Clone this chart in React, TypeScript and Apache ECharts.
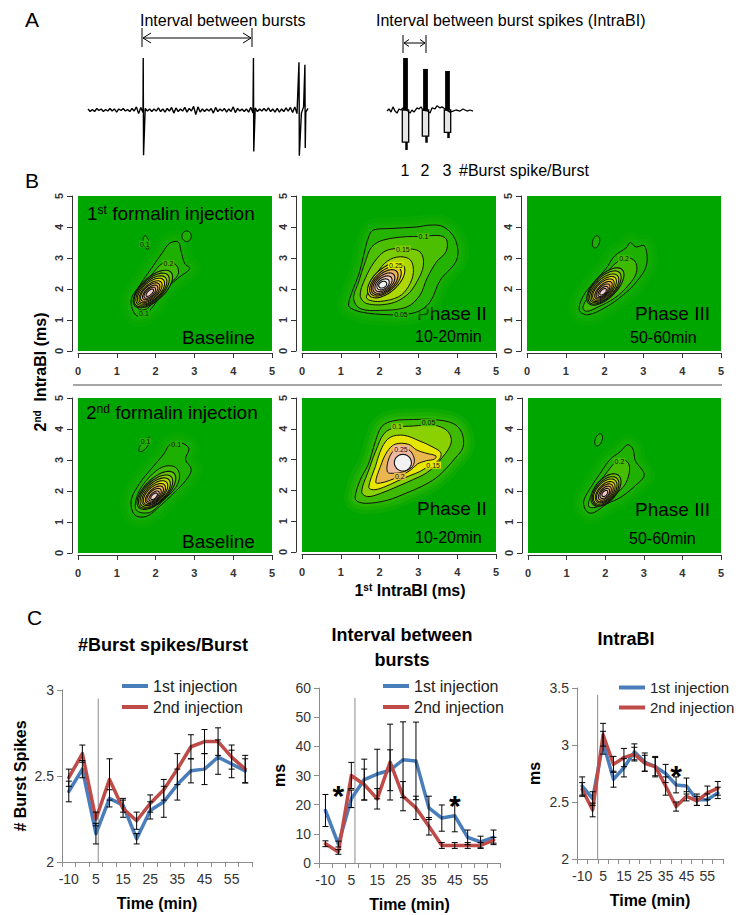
import React, { useEffect, useRef } from "react";
import * as echarts from "echarts";

const FONT = "'Liberation Sans', Arial, Helvetica, sans-serif";

// ---------------- Panel A: example traces ----------------
const trace1Noise = [
  0.02, -0.03, 0.01, -0.03, 0.03, -0.01, 0.02, -0.03, 0.01, -0.02,
  0.03, -0.02, 0.02, -0.04, 0.02, -0.01, 0.03, -0.02, 0.01, -0.03,
  0.03, -0.02, 0.06, -0.07, 0.05, -0.05, 0.03, -0.02, 0.02, -0.03,
  0.02, -0.02, 0.04, -0.03, 0.02, -0.04, 0.03, -0.02, 0.05, -0.06,
  0.04, -0.03, 0.02, -0.02, 0.05, -0.04, 0.03, -0.02, 0.07, -0.09,
  0.06, -0.04, 0.02, -0.03, 0.02, -0.02, 0.03, -0.06, 0.05, -0.03,
  0.02, -0.02, 0.03, -0.04, 0.02, -0.03, 0.06, -0.05, 0.03, -0.02,
  0.02, -0.03, 0.02, -0.04, 0.05, -0.06, 0.04, -0.03, 0.02, -0.02,
  0.03, -0.02, 0.04, -0.03, 0.02, -0.04, 0.03, -0.04, 0.02, -0.03,
  0.04, -0.02, 0.05, -0.05, 0.06, -0.07, 0.05, -0.06, 0.06, -0.04,
  0.03,
];
// [time, peak, trough]
const trace1Spikes = [
  [251, 1.0, -0.87],
  [752, 1.0, -0.8],
  [959, 0.92, -0.88],
  [986, 0.87, -0.73],
];
const burstTrace = [
  [0, -0.02], [0.2, 0.02], [0.4, -0.04], [0.6, 0.06], [0.8, -0.02], [1.0, -0.06],
  [1.2, 0.02], [1.4, 0], [1.6, 0.04], [2.1, -0.02], [2.3, -0.06], [2.5, 0],
  [2.7, -0.04], [3.0, 0.04], [3.2, 0.02], [3.4, 0.06], [3.6, 0], [4.1, -0.02],
  [4.3, -0.06], [4.5, 0.04], [4.8, 0.02], [5.0, 0.08], [5.3, 0.04], [5.5, 0.06],
  [5.8, 0.02], [6.3, -0.04], [6.6, -0.02], [6.9, 0], [7.3, -0.02], [7.6, 0.02],
  [8.0, -0.02], [8.3, 0], [8.6, -0.02],
];
const burstSpikes = [
  [1.85, 1.0, -0.77],
  [3.85, 0.79, -0.63],
  [6.05, 0.75, -0.54],
];

// ---------------- Panel B: density contours (1st IntraBI, 2nd IntraBI in ms) ----------------
// Row 1 Baseline
const base1Rings = [
  [[1.5, 1.15], [1.37, 1.64], [1.59, 2.12], [1.89, 2.66], [2.19, 3.2], [2.36, 3.47], [2.58, 3.52], [2.66, 3.2], [2.75, 2.82], [2.88, 2.66], [2.62, 2.39], [2.28, 2.02], [2.02, 1.58], [1.76, 1.21]],
  [[1.55, 1.37], [1.59, 1.91], [1.89, 2.45], [2.23, 2.86], [2.53, 2.77], [2.58, 2.47], [2.32, 2.12], [2.02, 1.69], [1.76, 1.35]],
];
const base1RingLevels = [0.1, 0.2];
const base1Cores = [
  [1.93, 2.0, 0.72, 0.33, 53], [1.9, 1.97, 0.64, 0.3, 53], [1.89, 1.95, 0.56, 0.27, 53],
  [1.88, 1.93, 0.49, 0.24, 53], [1.87, 1.91, 0.42, 0.2, 53], [1.86, 1.9, 0.35, 0.17, 53],
  [1.86, 1.89, 0.28, 0.13, 53], [1.85, 1.88, 0.21, 0.1, 53], [1.85, 1.88, 0.14, 0.06, 53],
];
const base1CoreLevels = [0.3, 0.4, 0.5, 0.6, 0.7, 0.8, 0.9, 1.0, 1.1];
const base1Islands = [[2.8, 3.7, 0.17, 0.12, 90, 0.1], [1.76, 3.5, 0.22, 0.07, 100, 0.1]];
const base1Labels = [[1.72, 3.45, "0.1", 0.1], [2.33, 2.82, "0.2", 0.2], [1.7, 1.2, "0.1", 0.1]];

// Row 1 Phase II
const phase2aRings = [
  [[1.2, 1.48], [1.29, 1.91], [1.46, 2.45], [1.59, 3.09], [1.72, 3.69], [1.84, 3.9], [2.27, 3.95], [2.96, 4.0], [3.3, 4.06], [3.64, 4.01], [3.95, 3.6], [3.99, 2.95], [3.56, 2.28], [3.3, 1.58], [3.0, 1.28], [2.6, 1.18], [2.19, 1.17], [1.59, 1.24], [1.29, 1.36]],
  [[1.33, 1.69], [1.46, 2.23], [1.63, 2.88], [1.8, 3.36], [2.1, 3.58], [2.7, 3.69], [3.04, 3.69], [3.56, 3.72], [3.73, 3.58], [3.71, 3.2], [3.47, 2.88], [3.22, 2.34], [3.04, 1.8], [2.7, 1.42], [2.02, 1.31], [1.5, 1.37]],
  [[1.5, 1.8], [1.67, 2.45], [1.93, 2.98], [2.19, 3.25], [2.62, 3.3], [3.04, 3.2], [3.13, 2.77], [2.96, 2.23], [2.7, 1.8], [2.27, 1.53], [1.67, 1.53]],
  [[1.66, 1.75], [1.93, 2.5], [2.2, 2.9], [2.53, 3.04], [2.8, 2.93], [2.87, 2.53], [2.74, 2.07], [2.49, 1.75], [2.02, 1.6], [1.74, 1.64]],
];
const phase2aRingLevels = [0.05, 0.1, 0.15, 0.2];
const phase2aCores = [
  [2.17, 2.28, 0.66, 0.34, 53], [2.15, 2.25, 0.56, 0.29, 53], [2.13, 2.22, 0.47, 0.25, 53],
  [2.11, 2.19, 0.38, 0.21, 53], [2.1, 2.17, 0.29, 0.17, 53], [2.09, 2.15, 0.2, 0.13, 53],
  [2.08, 2.14, 0.12, 0.09, 50],
];
const phase2aCoreLevels = [0.25, 0.3, 0.35, 0.4, 0.45, 0.5, 0.55];
const phase2aLabels = [[3.13, 3.69, "0.1", 0.1], [2.6, 3.29, "0.15", 0.15], [2.42, 2.76, "0.25", 0.25], [2.55, 1.19, "0.05", 0.05]];

// Row 1 Phase III
const phase3aRings = [
  [[1.35, 1.31], [1.44, 1.75], [1.7, 2.18], [2.04, 2.66], [2.26, 3.07], [2.56, 3.33], [2.66, 3.5], [2.8, 3.36], [3.03, 3.39], [3.08, 2.77], [2.82, 2.23], [2.47, 1.8], [2.04, 1.42], [1.57, 1.17]],
  [[1.44, 1.42], [1.66, 1.89], [1.96, 2.39], [2.26, 2.8], [2.52, 3.01], [2.78, 2.9], [2.82, 2.53], [2.6, 2.1], [2.26, 1.71], [1.83, 1.42], [1.53, 1.28]],
];
const phase3aRingLevels = [0.1, 0.2];
const phase3aCores = [
  [2.02, 2.08, 0.7, 0.32, 55], [2.0, 2.05, 0.62, 0.29, 55], [1.99, 2.02, 0.54, 0.26, 55],
  [1.98, 2.0, 0.47, 0.22, 55], [1.97, 1.98, 0.4, 0.19, 55], [1.97, 1.96, 0.33, 0.15, 55],
  [1.96, 1.94, 0.26, 0.12, 55], [1.96, 1.92, 0.19, 0.09, 55], [1.96, 1.91, 0.12, 0.06, 55],
];
const phase3aCoreLevels = [0.3, 0.4, 0.5, 0.6, 0.7, 0.8, 0.9, 1.0, 1.1];
const phase3aIslands = [[1.78, 3.52, 0.2, 0.09, 80, 0.1]];
const phase3aLabels = [[2.5, 2.98, "0.2", 0.2]];

// Row 2 Baseline
const base2Rings = [
  [[1.46, 1.23], [1.37, 1.69], [1.59, 2.25], [1.92, 2.76], [2.21, 3.19], [2.38, 3.51], [2.66, 3.55], [2.86, 3.37], [2.77, 3.02], [2.92, 2.7], [2.79, 2.36], [2.45, 1.91], [2.1, 1.5], [1.76, 1.18]],
  [[1.5, 1.39], [1.55, 1.93], [1.85, 2.46], [2.19, 2.78], [2.49, 2.78], [2.62, 2.52], [2.52, 2.12], [2.19, 1.69], [1.85, 1.31]],
];
const base2RingLevels = [0.1, 0.2];
const base2Cores = [
  [2.02, 2.02, 0.72, 0.33, 54], [2.0, 1.98, 0.63, 0.3, 54], [1.99, 1.95, 0.55, 0.27, 54],
  [1.98, 1.93, 0.47, 0.23, 54], [1.97, 1.9, 0.4, 0.2, 54], [1.97, 1.88, 0.33, 0.16, 54],
  [1.96, 1.86, 0.26, 0.13, 54], [1.96, 1.84, 0.19, 0.09, 54], [1.96, 1.83, 0.12, 0.06, 54],
];
const base2CoreLevels = [0.3, 0.4, 0.5, 0.6, 0.7, 0.8, 0.9, 1.0, 1.1];
const base2Islands = [[1.72, 3.5, 0.26, 0.09, 60, 0.1]];
const base2Labels = [[2.53, 3.5, "0.1", 0.1], [1.74, 3.6, "0.1", 0.1]];

// Row 2 Phase II
const phase2bRings = [
  [[1.37, 1.8], [1.5, 2.34], [1.72, 2.88], [1.89, 3.58], [2.06, 4.08], [2.36, 4.26], [2.87, 4.3], [3.39, 4.3], [3.9, 4.17], [4.12, 3.87], [4.15, 3.4], [3.95, 3.05], [3.72, 2.72], [3.45, 2.4], [3.1, 2.14], [2.7, 1.92], [2.2, 1.68], [1.67, 1.58], [1.42, 1.65]],
  [[1.54, 1.95], [1.72, 2.66], [1.91, 3.31], [2.12, 3.85], [2.4, 4.04], [2.87, 4.09], [3.39, 4.12], [3.73, 3.95], [3.85, 3.65], [3.78, 3.35], [3.62, 3.08], [3.45, 2.82], [3.2, 2.56], [2.88, 2.36], [2.5, 2.15], [2.02, 1.9], [1.69, 1.8]],
  [[1.72, 2.1], [1.89, 2.77], [2.06, 3.39], [2.27, 3.72], [2.62, 3.79], [3.04, 3.6], [3.35, 3.42], [3.58, 3.22], [3.52, 2.98], [3.3, 2.82], [3.05, 2.62], [2.78, 2.48], [2.45, 2.3], [2.1, 2.1], [1.84, 2.02]],
  [[1.9, 2.26], [2.02, 2.77], [2.19, 3.25], [2.4, 3.5], [2.74, 3.5], [2.96, 3.31], [3.22, 3.2], [3.45, 3.12], [3.42, 3.02], [3.2, 2.96], [2.98, 2.86], [2.8, 2.66], [2.55, 2.48], [2.25, 2.32], [2.02, 2.24]],
  [[2.2, 2.6], [2.25, 3.07], [2.43, 3.34], [2.74, 3.33], [2.89, 3.05], [2.85, 2.78], [2.65, 2.62], [2.4, 2.56]],
];
const phase2bRingLevels = [0.05, 0.1, 0.15, 0.2, 0.25];
const phase2bCores = [[2.6, 2.9, 0.27, 0.22, 90]];
const phase2bCoreLevels = [0.3];
const phase2bLabels = [[3.26, 4.2, "0.05", 0.05], [2.45, 4.06, "0.1", 0.1], [2.55, 3.34, "0.25", 0.25], [3.38, 2.82, "0.15", 0.15], [2.52, 2.46, "0.2", 0.2]];

// Row 2 Phase III
const phase3bRings = [
  [[1.53, 1.33], [1.44, 1.65], [1.61, 2.08], [1.87, 2.57], [2.13, 3.02], [2.39, 3.27], [2.58, 3.49], [2.72, 3.35], [2.78, 2.98], [3.01, 2.52], [2.75, 2.14], [2.39, 1.79], [2.04, 1.58], [1.7, 1.3]],
  [[1.57, 1.51], [1.7, 2.03], [1.96, 2.46], [2.26, 2.92], [2.47, 3.02], [2.62, 2.84], [2.6, 2.46], [2.46, 2.12], [2.13, 1.79], [1.8, 1.49]],
];
const phase3bRingLevels = [0.1, 0.2];
const phase3bCores = [
  [2.02, 2.03, 0.58, 0.3, 60], [2.01, 2.0, 0.51, 0.27, 60], [2.0, 1.98, 0.45, 0.24, 60],
  [2.0, 1.96, 0.38, 0.2, 60], [1.99, 1.94, 0.32, 0.17, 60], [1.99, 1.93, 0.25, 0.13, 60],
  [1.99, 1.92, 0.18, 0.1, 60], [1.99, 1.92, 0.11, 0.06, 60],
];
const phase3bCoreLevels = [0.3, 0.4, 0.5, 0.6, 0.7, 0.8, 0.9, 1.0];
const phase3bIslands = [[1.83, 3.65, 0.2, 0.09, 75, 0.1]];
const phase3bLabels = [[2.37, 2.95, "0.2", 0.2]];

// ---------------- Panel C: time courses ----------------
const timeCats = ["-10", "-5", "5", "10", "15", "20", "25", "30", "35", "40", "45", "50", "55", "60"];

const spikes1st = [2.41, 2.54, 2.165, 2.37, 2.33, 2.135, 2.3, 2.35, 2.45, 2.53, 2.54, 2.61, 2.57, 2.53];
const spikes1stErr = [0.06, 0.05, 0.06, 0.05, 0.04, 0.03, 0.05, 0.09, 0.09, 0.07, 0.09, 0.1, 0.08, 0.07];
const spikes2nd = [2.49, 2.63, 2.25, 2.48, 2.31, 2.24, 2.34, 2.42, 2.54, 2.67, 2.7, 2.7, 2.61, 2.54];
const spikes2ndErr = [0.05, 0.05, 0.04, 0.12, 0.05, 0.05, 0.05, 0.06, 0.09, 0.07, 0.07, 0.08, 0.07, 0.08];

const interval1st = [18, 6.5, 22, 28.6, 30.5, 31.8, 35.4, 35, 18.9, 15.4, 16.2, 8.8, 7.2, 8.8];
const interval1stErr = [5.5, 1, 3, 7, 8.5, 7, 13, 13.3, 4, 4.5, 5.5, 2.5, 2, 2.5];
const interval2nd = [6.6, 3.8, 30, 26.9, 22, 34.6, 22.9, 18.9, 12.6, 6, 6, 6, 6, 7.8];
const interval2ndErr = [1, 0.8, 4.5, 5.3, 3.5, 13, 5, 4, 3, 1, 1, 1, 1, 1];

const intra1st = [2.64, 2.53, 3.02, 2.7, 2.8, 2.94, 2.85, 2.81, 2.75, 2.65, 2.64, 2.52, 2.52, 2.58];
const intra1stErr = [0.08, 0.06, 0.1, 0.07, 0.08, 0.07, 0.08, 0.08, 0.08, 0.07, 0.07, 0.05, 0.05, 0.05];
const intra2nd = [2.61, 2.43, 3.09, 2.83, 2.89, 2.92, 2.84, 2.81, 2.64, 2.46, 2.55, 2.51, 2.58, 2.62];
const intra2ndErr = [0.06, 0.06, 0.1, 0.07, 0.08, 0.06, 0.07, 0.09, 0.08, 0.04, 0.04, 0.04, 0.06, 0.06];

// significance stars: [category, value]
const intervalStars = [["-5", 26], ["45", 22.6]];
const intraStars = [["40", 2.8]];

const BLUE = "#4A7EBB";
const RED = "#BE4B48";

// ---------------- helpers ----------------
function hsv(h: number, s: number, v: number) {
  const c = v * s;
  const hp = h / 60;
  const x = c * (1 - Math.abs((hp % 2) - 1));
  let r = 0, g = 0, b = 0;
  if (hp < 1) { r = c; g = x; }
  else if (hp < 2) { r = x; g = c; }
  else if (hp < 3) { g = c; b = x; }
  else if (hp < 4) { g = x; b = c; }
  else if (hp < 5) { r = x; b = c; }
  else { r = c; b = x; }
  const m = v - c;
  const to = (q: number) => Math.round((q + m) * 255);
  return `rgb(${to(r)},${to(g)},${to(b)})`;
}
// R terrain.colors as a continuous ramp
function terrain(f: number) {
  const q = Math.max(0, Math.min(1, f));
  if (q <= 0.5) {
    const t = q / 0.5;
    return hsv(120 - 60 * t, 1, 0.65 + 0.25 * t);
  }
  const t = (q - 0.5) / 0.5;
  return hsv(Math.max(0, 60 - 60 * t), 1 - t, 0.9 + 0.05 * t);
}
function ellipsePts(cx: number, cy: number, a: number, b: number, deg: number) {
  const th = (deg * Math.PI) / 180;
  const out: number[][] = [];
  for (let k = 0; k < 48; k++) {
    const t = (2 * Math.PI * k) / 48;
    out.push([
      cx + a * Math.cos(th) * Math.cos(t) - b * Math.sin(th) * Math.sin(t),
      cy + a * Math.sin(th) * Math.cos(t) + b * Math.cos(th) * Math.sin(t),
    ]);
  }
  return out;
}

function makePanelRenderer(rings: any[], ringLevels: number[], cores: any[], coreLevels: number[], islands: any[], labels: any[], zmax: number) {
  return (params: any, api: any) => {
    const pts = (arr: number[][]) => arr.map((p) => api.coord(p));
    const children: any[] = [];
    const outer = pts(rings[0]);
    const haloColor = terrain((ringLevels[0] / zmax) * 0.9);
    [22, 14, 7].forEach((w, j) => {
      children.push({
        type: "polygon",
        shape: { points: outer, smooth: 0.35 },
        style: { fill: haloColor, stroke: haloColor, lineWidth: w, opacity: 0.22 + 0.12 * j, lineJoin: "round" },
      });
    });
    rings.forEach((ring, i) => {
      children.push({
        type: "polygon",
        shape: { points: pts(ring), smooth: 0.35 },
        style: { fill: terrain(ringLevels[i] / zmax), stroke: "#111", lineWidth: 1 },
      });
    });
    islands.forEach((isl) => {
      children.push({
        type: "polygon",
        shape: { points: pts(ellipsePts(isl[0], isl[1], isl[2], isl[3], isl[4])) },
        style: { fill: terrain(isl[5] / zmax), stroke: "#111", lineWidth: 1 },
      });
    });
    cores.forEach((c, i) => {
      children.push({
        type: "polygon",
        shape: { points: pts(ellipsePts(c[0], c[1], c[2], c[3], c[4])) },
        style: { fill: terrain(coreLevels[i] / zmax), stroke: "#111", lineWidth: 1.1 },
      });
    });
    labels.forEach((l) => {
      const p = api.coord([l[0], l[1]]);
      children.push({
        type: "text",
        x: p[0],
        y: p[1],
        style: {
          text: l[2], fontSize: 7, fill: "#111", align: "center", verticalAlign: "middle",
          backgroundColor: terrain(l[3] / zmax), padding: [0, 1], fontFamily: FONT,
        },
      });
    });
    return { type: "group", children };
  };
}

function errorBarRenderer(params: any, api: any) {
  const x = api.value(0);
  const lo = api.coord([x, api.value(1)]);
  const hi = api.coord([x, api.value(2)]);
  const w = 3;
  const st = { stroke: "#000", lineWidth: 1 };
  return {
    type: "group",
    children: [
      { type: "line", shape: { x1: lo[0], y1: lo[1], x2: hi[0], y2: hi[1] }, style: st },
      { type: "line", shape: { x1: lo[0] - w, y1: lo[1], x2: lo[0] + w, y2: lo[1] }, style: st },
      { type: "line", shape: { x1: hi[0] - w, y1: hi[1], x2: hi[0] + w, y2: hi[1] }, style: st },
    ],
  };
}

function starRenderer(params: any, api: any) {
  const p = api.coord([api.value(0), api.value(1)]);
  return {
    type: "text",
    x: p[0],
    y: p[1] + 8,
    style: { text: "*", fontSize: 30, fontWeight: "bold", fill: "#000", align: "center", verticalAlign: "middle", fontFamily: FONT },
  };
}

function markerRenderer(params: any, api: any) {
  const xi = api.value(0);
  const top = api.value(1);
  const bottom = api.value(2);
  const i0 = Math.floor(xi);
  const a = api.coord([i0, top]);
  const b = api.coord([i0 + 1, top]);
  const x = a[0] + (b[0] - a[0]) * (xi - i0);
  const yb = api.coord([i0, bottom])[1];
  return { type: "line", shape: { x1: x, y1: a[1], x2: x, y2: yb }, style: { stroke: "#8c8c8c", lineWidth: 1 } };
}

function buildOption() {
  // trace 1 assembled from baseline noise and spike list
  const trace1Data: number[][] = trace1Noise.map((v, i) => [i * 10, v]);
  trace1Spikes.forEach((s) => {
    trace1Data.push([s[0], s[1]], [s[0] + 1.5, s[2]]);
  });
  trace1Data.sort((a, b) => a[0] - b[0]);

  const grids = [
    { left: 88, top: 58, width: 220, height: 104 },
    { left: 387, top: 58, width: 86, height: 104 },
    { left: 78, top: 196, width: 194, height: 155, show: true, backgroundColor: "#00A600", borderWidth: 0 },
    { left: 302, top: 196, width: 194, height: 155, show: true, backgroundColor: "#00A600", borderWidth: 0 },
    { left: 527, top: 196, width: 194, height: 155, show: true, backgroundColor: "#00A600", borderWidth: 0 },
    { left: 78, top: 398, width: 194, height: 155, show: true, backgroundColor: "#00A600", borderWidth: 0 },
    { left: 302, top: 398, width: 194, height: 154, show: true, backgroundColor: "#00A600", borderWidth: 0 },
    { left: 528, top: 398, width: 193, height: 155, show: true, backgroundColor: "#00A600", borderWidth: 0 },
    { left: 62, top: 690, width: 190, height: 172 },
    { left: 319, top: 688, width: 181, height: 175 },
    { left: 577, top: 688, width: 146, height: 171 },
  ];

  const xAxis: any[] = [
    { gridIndex: 0, type: "value", min: 0, max: 1000, show: false },
    { gridIndex: 1, type: "value", min: 0, max: 8.6, show: false },
  ];
  const yAxis: any[] = [
    { gridIndex: 0, type: "value", min: -1, max: 1, show: false },
    { gridIndex: 1, type: "value", min: -1, max: 1, show: false },
  ];
  for (let g = 2; g <= 7; g++) {
    const axLine = { show: true, onZero: false, lineStyle: { color: "#333", width: 1 } };
    const axTick = { show: true, length: 5, lineStyle: { color: "#333" } };
    xAxis.push({
      gridIndex: g, type: "value", min: 0, max: 5, interval: 1, offset: 2,
      axisLine: axLine, axisTick: axTick, splitLine: { show: false },
      axisLabel: { fontSize: 11, fontWeight: "bold", color: "#333", margin: 12 },
    });
    yAxis.push({
      gridIndex: g, type: "value", min: 0, max: 5, interval: 1, offset: 6,
      axisLine: axLine, axisTick: axTick, splitLine: { show: false },
      axisLabel: { fontSize: 11, fontWeight: "bold", color: "#333", rotate: 90, margin: 8 },
    });
  }
  const cY = [
    { min: 2, max: 3, interval: 0.5, name: "# Burst Spikes", gap: 34 },
    { min: 0, max: 60, interval: 10, name: "ms", gap: 32 },
    { min: 2, max: 3.5, interval: 0.5, name: "ms", gap: 35 },
  ];
  cY.forEach((c, k) => {
    const g = 8 + k;
    xAxis.push({
      gridIndex: g, type: "category", data: timeCats, boundaryGap: true,
      axisLine: { lineStyle: { color: "#8c8c8c" } },
      axisTick: { show: true, interval: 0, length: 5, lineStyle: { color: "#8c8c8c" } },
      axisLabel: { interval: 1, fontSize: 14, color: "#333", margin: 10 },
      name: "Time (min)", nameLocation: "middle", nameGap: 33,
      nameTextStyle: { fontSize: 16, fontWeight: "bold", color: "#000" },
    });
    yAxis.push({
      gridIndex: g, type: "value", min: c.min, max: c.max, interval: c.interval,
      axisLine: { show: true, lineStyle: { color: "#8c8c8c" } },
      axisTick: { show: true, length: 5, lineStyle: { color: "#8c8c8c" } },
      splitLine: { show: false },
      axisLabel: { fontSize: 14, color: "#333", margin: 8 },
      name: c.name, nameLocation: "middle", nameGap: c.gap,
      nameTextStyle: { fontSize: 16, fontWeight: "bold", color: "#000" },
    });
  });

  const series: any[] = [];
  // Panel A
  series.push({
    type: "line", xAxisIndex: 0, yAxisIndex: 0, data: trace1Data, showSymbol: false, symbol: "none",
    lineStyle: { color: "#000", width: 1.4 }, silent: true,
  });
  series.push({
    type: "line", xAxisIndex: 1, yAxisIndex: 1, data: burstTrace, showSymbol: false, symbol: "none",
    lineStyle: { color: "#000", width: 1.3 }, silent: true,
  });
  series.push({
    type: "custom", xAxisIndex: 1, yAxisIndex: 1, data: burstSpikes, silent: true,
    renderItem: (params: any, api: any) => {
      const t = api.value(0), top = api.value(1), bot = api.value(2);
      const a = api.coord([t - 0.24, top]);
      const b = api.coord([t + 0.24, 0]);
      const c = api.coord([t - 0.32, 0]);
      const d = api.coord([t + 0.32, bot * 0.8]);
      const e = api.coord([t + 0.1, bot]);
      return {
        type: "group",
        children: [
          { type: "rect", shape: { x: c[0], y: c[1], width: d[0] - c[0], height: d[1] - c[1] }, style: { fill: "#e6e6e6", stroke: "#000", lineWidth: 1.3 } },
          { type: "line", shape: { x1: e[0], y1: d[1], x2: e[0], y2: e[1] }, style: { stroke: "#000", lineWidth: 2.5 } },
          { type: "rect", shape: { x: a[0], y: a[1], width: b[0] - a[0], height: b[1] - a[1] }, style: { fill: "#000" } },
        ],
      };
    },
  });

  // Panel B
  const panels = [
    makePanelRenderer(base1Rings, base1RingLevels, base1Cores, base1CoreLevels, base1Islands, base1Labels, 1.2),
    makePanelRenderer(phase2aRings, phase2aRingLevels, phase2aCores, phase2aCoreLevels, [], phase2aLabels, 0.5),
    makePanelRenderer(phase3aRings, phase3aRingLevels, phase3aCores, phase3aCoreLevels, phase3aIslands, phase3aLabels, 1.2),
    makePanelRenderer(base2Rings, base2RingLevels, base2Cores, base2CoreLevels, base2Islands, base2Labels, 1.2),
    makePanelRenderer(phase2bRings, phase2bRingLevels, phase2bCores, phase2bCoreLevels, [], phase2bLabels, 0.3),
    makePanelRenderer(phase3bRings, phase3bRingLevels, phase3bCores, phase3bCoreLevels, phase3bIslands, phase3bLabels, 1.1),
  ];
  panels.forEach((r, k) => {
    series.push({ type: "custom", xAxisIndex: 2 + k, yAxisIndex: 2 + k, data: [[0, 0]], renderItem: r, silent: true, clip: true });
  });

  // Panel C
  const cSets = [
    { a: spikes1st, ae: spikes1stErr, b: spikes2nd, be: spikes2ndErr, stars: [] as any[], marker: [2.17, 2.95, 2] },
    { a: interval1st, ae: interval1stErr, b: interval2nd, be: interval2ndErr, stars: intervalStars, marker: [2.28, 56.6, 0] },
    { a: intra1st, ae: intra1stErr, b: intra2nd, be: intra2ndErr, stars: intraStars, marker: [1.48, 3.44, 2] },
  ];
  cSets.forEach((s, k) => {
    const g = 8 + k;
    series.push({
      type: "custom", xAxisIndex: g, yAxisIndex: g, data: [s.marker], renderItem: markerRenderer, silent: true, z: 1,
    });
    series.push({
      name: "1st injection", type: "line", xAxisIndex: g, yAxisIndex: g, data: s.a, symbol: "none", showSymbol: false,
      lineStyle: { color: BLUE, width: 3.5, cap: "round", join: "round" }, itemStyle: { color: BLUE }, z: 3,
    });
    series.push({
      name: "2nd injection", type: "line", xAxisIndex: g, yAxisIndex: g, data: s.b, symbol: "none", showSymbol: false,
      lineStyle: { color: RED, width: 3.5, cap: "round", join: "round" }, itemStyle: { color: RED }, z: 3,
    });
    series.push({
      type: "custom", xAxisIndex: g, yAxisIndex: g, z: 4, silent: true,
      data: s.a.map((v, i) => [i, v - s.ae[i], v + s.ae[i]]), renderItem: errorBarRenderer,
    });
    series.push({
      type: "custom", xAxisIndex: g, yAxisIndex: g, z: 4, silent: true,
      data: s.b.map((v, i) => [i, v - s.be[i], v + s.be[i]]), renderItem: errorBarRenderer,
    });
    if (s.stars.length) {
      series.push({
        type: "custom", xAxisIndex: g, yAxisIndex: g, z: 5, silent: true,
        data: s.stars.map((st: any) => [timeCats.indexOf(st[0]), st[1]]), renderItem: starRenderer,
      });
    }
  });

  const legendBase = {
    orient: "vertical", icon: "rect", itemWidth: 26, itemHeight: 4, itemGap: 5,
    textStyle: { fontSize: 16, color: "#222", fontFamily: FONT },
    data: ["1st injection", "2nd injection"], selectedMode: false,
  };
  const legend = [
    { ...legendBase, left: 117, top: 673 },
    { ...legendBase, left: 378, top: 673 },
    { ...legendBase, left: 614, top: 675, textStyle: { fontSize: 15, color: "#222", fontFamily: FONT } },
  ];

  const T = (x: number, y: number, text: string, size: number, extra: any = {}) => ({
    type: "text", x, y, silent: true,
    style: { text, fontSize: size, fill: "#000", fontFamily: FONT, verticalAlign: "middle", align: "left", ...extra },
  });
  const L = (x1: number, y1: number, x2: number, y2: number, stroke = "#000", lw = 1) => ({
    type: "line", silent: true, shape: { x1, y1, x2, y2 }, style: { stroke, lineWidth: lw },
  });
  const P = (points: number[][]) => ({
    type: "polyline", silent: true, shape: { points }, style: { stroke: "#000", lineWidth: 1, fill: null },
  });
  const supRich = (size: number, weight = "normal") => ({
    n: { fontSize: size, fontWeight: weight, fill: "#000", fontFamily: FONT },
    s: { fontSize: Math.round(size * 0.62), fontWeight: weight, fill: "#000", fontFamily: FONT, verticalAlign: "top" },
  });

  const graphic: any[] = [
    T(25, 19, "A", 21),
    T(140, 20, "Interval between bursts", 16),
    L(142, 28, 142, 47), L(252, 28, 252, 47), L(143, 38, 251, 38),
    P([[151, 33], [143, 38], [151, 43]]), P([[243, 33], [251, 38], [243, 43]]),
    T(376, 20, "Interval between burst spikes (IntraBI)", 16),
    L(403, 35, 403, 53), L(426, 35, 426, 53), L(404, 43, 425, 43),
    P([[409, 39.5], [404, 43], [409, 46.5]]), P([[420, 39.5], [425, 43], [420, 46.5]]),
    T(405, 170, "1", 16, { align: "center" }),
    T(425, 170, "2", 16, { align: "center" }),
    T(447, 170, "3", 16, { align: "center" }),
    T(459, 170, "#Burst spike/Burst", 16),
    T(25, 180, "B", 21),
    L(73, 385, 722, 385, "#a6a6a6", 2),
    { type: "text", x: 87, y: 213, silent: true, style: { text: "{n|1}{s|st}{n| formalin injection}", rich: supRich(19), verticalAlign: "middle", align: "left" } },
    T(182, 337, "Baseline", 19),
    T(417, 313, "Phase II", 19),
    T(415, 336, "10-20min", 16),
    T(635, 313, "Phase III", 19),
    T(630, 337, "50-60min", 16),
    { type: "text", x: 86, y: 412, silent: true, style: { text: "{n|2}{s|nd}{n| formalin injection}", rich: supRich(19), verticalAlign: "middle", align: "left" } },
    T(182, 541, "Baseline", 19),
    T(417, 508, "Phase II", 19),
    T(415, 537, "10-20min", 16),
    T(635, 509, "Phase III", 19),
    T(629, 538, "50-60min", 16),
    { type: "text", x: 40, y: 372, rotation: Math.PI / 2, silent: true, style: { text: "{n|2}{s|nd}{n|  IntraBI (ms)}", rich: supRich(16, "bold"), verticalAlign: "middle", align: "center" } },
    { type: "text", x: 410, y: 590, silent: true, style: { text: "{n|1}{s|st}{n| IntraBI (ms)}", rich: supRich(16, "bold"), verticalAlign: "middle", align: "center" } },
    T(27, 617, "C", 21),
    T(163, 645, "#Burst spikes/Burst", 18, { fontWeight: "bold", align: "center" }),
    T(402, 635, "Interval between", 18, { fontWeight: "bold", align: "center" }),
    T(402, 660, "bursts", 18, { fontWeight: "bold", align: "center" }),
    T(626, 639, "IntraBI", 18, { fontWeight: "bold", align: "center" }),
  ];

  return {
    animation: false,
    backgroundColor: "#fff",
    textStyle: { fontFamily: FONT },
    grid: grids,
    xAxis,
    yAxis,
    legend,
    series,
    graphic,
  };
}

export default function App() {
  const ref = useRef<HTMLDivElement>(null);
  useEffect(() => {
    if (!ref.current) return;
    const chart = echarts.init(ref.current, undefined, { renderer: "svg" });
    chart.setOption(buildOption() as any);
    return () => chart.dispose();
  }, []);
  return (
    <div
      ref={ref}
      style={{ position: "absolute", left: 0, top: 0, width: 740, height: 915, background: "#fff" }}
    />
  );
}
